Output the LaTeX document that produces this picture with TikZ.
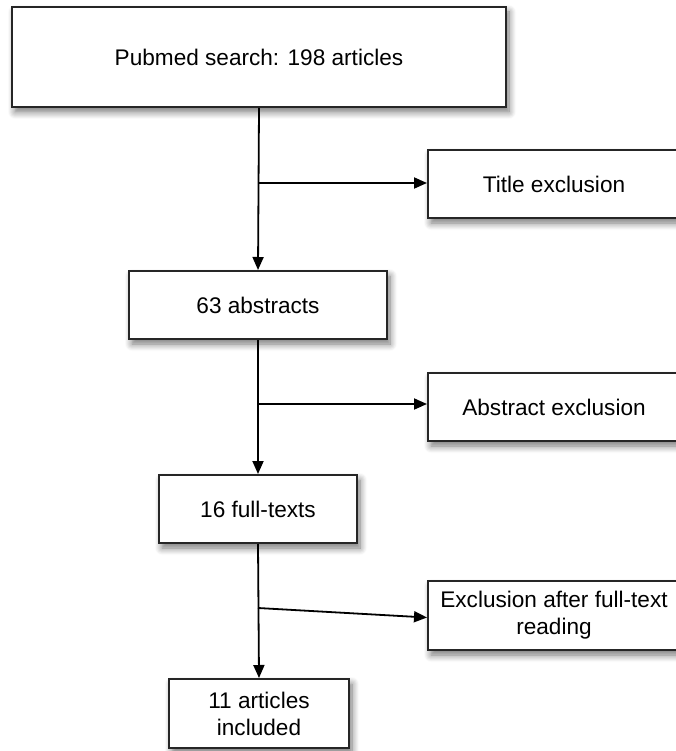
\documentclass[tikz,border=0pt]{standalone}
\usepackage{fontspec}
\setmainfont{Liberation Sans}
\usetikzlibrary{arrows.meta,shadows.blur}
\tikzset{
  stage/.style={draw=black!85, line width=2pt, fill=white, align=center,
    blur shadow={shadow xshift=3pt, shadow yshift=-5pt, shadow blur radius=7pt, shadow blur steps=8, shadow opacity=55},
    font=\fontsize{22.6}{27}\selectfont, inner sep=0pt},
  flow/.style={line width=1.8pt, -{Triangle[length=13pt,width=11pt]}}
}
\begin{document}
\begin{tikzpicture}[x=1pt,y=1pt]
                \useasboundingbox (0,0) rectangle (675,-751);
                \node[stage, minimum width=494, minimum height=100] (search) at (259,-57) {Pubmed search: 198 articles};
                \node[stage, minimum width=258, minimum height=68] (abstracts) at (258,-305) {63 abstracts};
                \node[stage, minimum width=198, minimum height=68] (fulltexts) at (258,-509) {16 full-texts};
                \node[stage, minimum width=180, minimum height=69] (included) at (259,-713.5) {11 articles\\included};

                \node[stage, minimum width=252, minimum height=68] (titleex) at (554,-184) {Title exclusion};
                \node[stage, minimum width=252, minimum height=68] (abstractex) at (554,-407) {Abstract exclusion};
                \node[stage, minimum width=252, minimum height=69] (readingex) at (554,-615.5) {Exclusion after full-text\\reading};

                \coordinate (split1) at (259,-183);
                \coordinate (split2) at (258,-404);
                \coordinate (split3) at (258,-608);

                \draw[flow] (search.south) -- (abstracts.north);
                \draw[flow] (abstracts.south) -- (fulltexts.north);
                \draw[flow] (fulltexts.south) -- (included.north);

                \draw[flow] (split1) -- (titleex.west |- split1);
                \draw[flow] (split2) -- (abstractex.west |- split2);
                \draw[flow] (split3) -- ([yshift=-2pt]readingex.west);
            \end{tikzpicture}
\end{document}
